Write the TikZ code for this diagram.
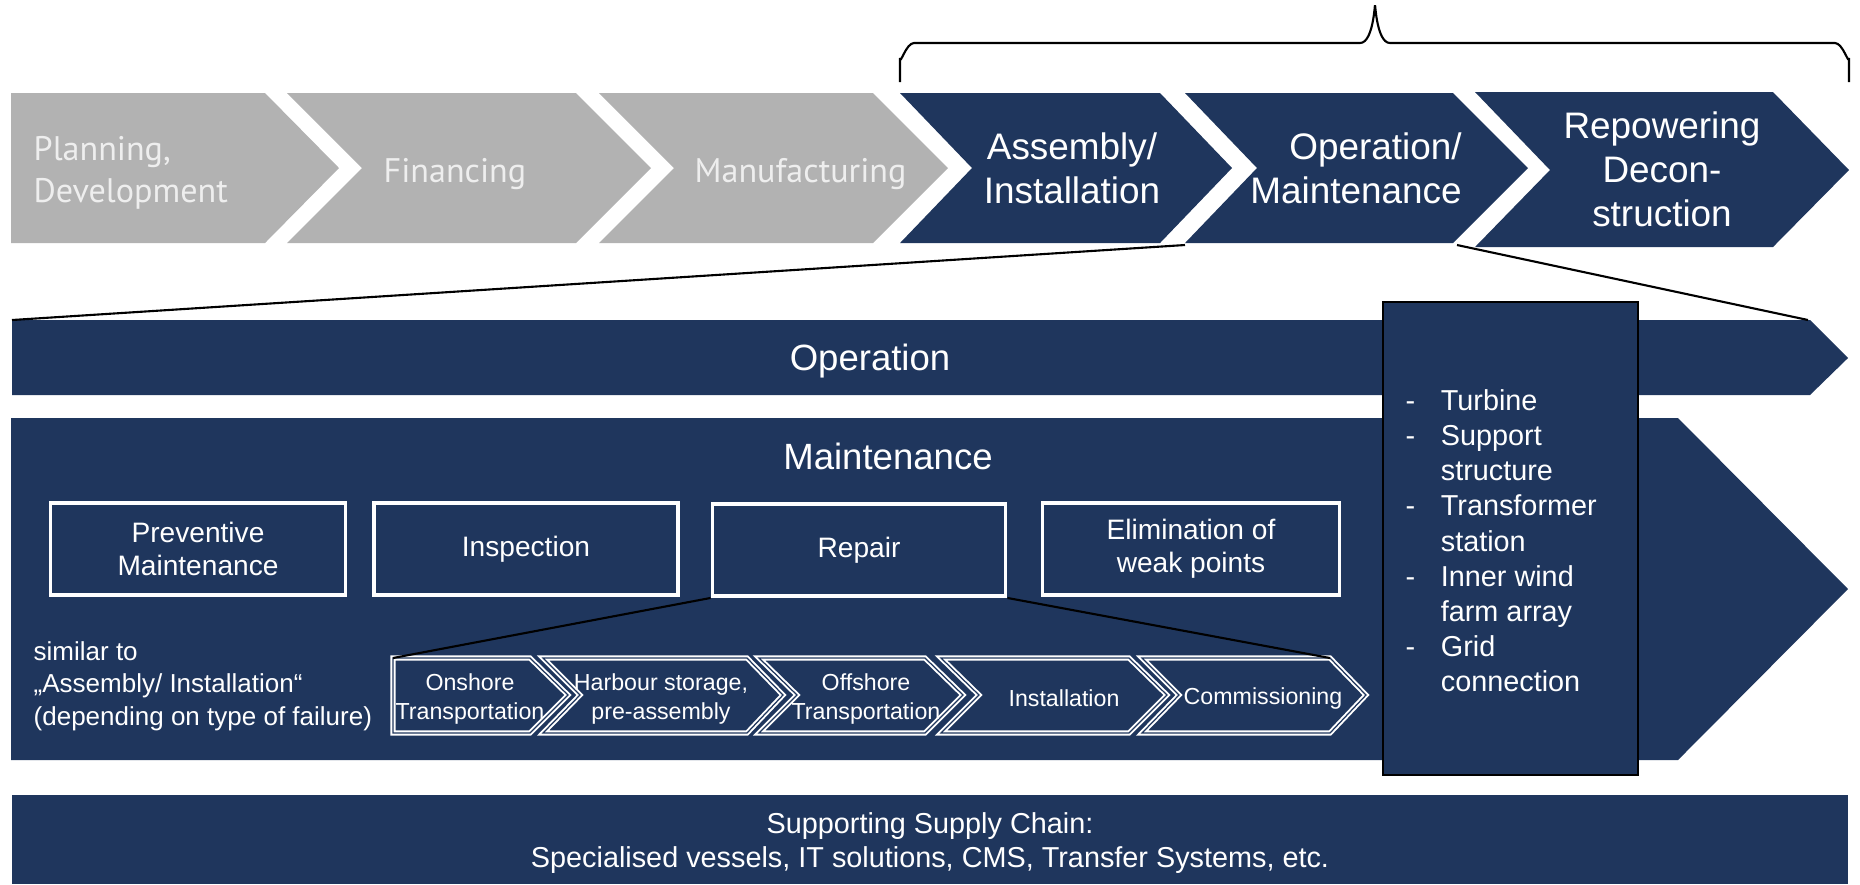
\documentclass[tikz,border=0pt]{standalone}
\usepackage{fontspec}
\setmainfont{Liberation Sans}
\newfontfamily\grayfont{PT Sans}
\usetikzlibrary{positioning}
\definecolor{navy}{RGB}{31,54,93}
\definecolor{stepgray}{RGB}{178,178,178}
\definecolor{graytext}{RGB}{238,238,238}
\begin{document}
\begin{tikzpicture}[x=0.1mm, y=-0.1mm,
    graylbl/.style={anchor=west, inner sep=0pt, align=left, text=graytext, font=\grayfont\fontsize{9.7}{12}\selectfont},
    bluelbl/.style={inner sep=0pt, align=center, text=white, font=\fontsize{10.5}{12.5}\selectfont},
    barlbl/.style={inner sep=0pt, text=white, font=\fontsize{10.4}{12}\selectfont},
    taskbox/.style={draw=white, line width=1.1pt, fill=navy, minimum height=9.2mm, align=center, text=white, font=\fontsize{8}{9.5}\selectfont},
    subchev/.style={draw=white, double=navy, double distance=0.35pt, line width=0.55pt, line join=miter},
    sublbl/.style={inner sep=0pt, align=center, text=white, font=\fontsize{6.6}{8.5}\selectfont},
    zoomline/.style={black, line width=0.6pt}]
  \useasboundingbox (0,0) rectangle (1860,884);

  % value chain
  \fill[stepgray] (11,93) -- (265,93) -- (339,168) -- (265,243) -- (11,243) -- cycle;
  \fill[stepgray] (287,93) -- (576,93) -- (651,168) -- (576,243) -- (287,243) -- (362,168) -- cycle;
  \fill[stepgray] (599,93) -- (873,93) -- (948,168) -- (873,243) -- (599,243) -- (674,168) -- cycle;
  \fill[navy] (900,93) -- (1160,93) -- (1232,168) -- (1160,243) -- (900,243) -- (972,168) -- cycle;
  \fill[navy] (1185,93) -- (1453,93) -- (1528,168) -- (1453,243) -- (1185,243) -- (1257,168) -- cycle;
  \fill[navy] (1475,92) -- (1773,92) -- (1849,170) -- (1773,247) -- (1475,247) -- (1550,170) -- cycle;

  \node[graylbl] (plan) at (33,173) {Planning,\\Development};
  \node[graylbl] (fin) at (383,174) {Financing};
  \node[graylbl] (manu) at (694,174) {Manufacturing};
  \node[bluelbl] (assy) at (1072,168) {Assembly/\\Installation};
  \node[bluelbl, align=right] (om) at (1356,168) {Operation/\\Maintenance};
  \node[bluelbl] (repo) at (1662,169) {Repowering\\Decon-\\struction};

  % brace
  \draw[line width=0.6pt] (900,82) -- (900,58) to[out=-90,in=180] (914,43) -- (1360,43)
    to[out=0,in=90] (1375,8) to[out=90,in=180] (1390,43) -- (1835,43)
    to[out=0,in=-90] (1849,58) -- (1849,82);

  % operation and maintenance
  \coordinate (om-bl) at (1185,245);
  \coordinate (om-br) at (1457,245);
  \coordinate (op-tl) at (12,320);
  \coordinate (op-tr) at (1808,320);
  \fill[navy] (12,320) -- (1810,320) -- (1848,358) -- (1810,395) -- (12,395) -- cycle;
  \fill[navy] (11,418) -- (1678,418) -- (1848,589) -- (1678,760) -- (11,760) -- cycle;
  \draw[zoomline] (om-bl) -- (op-tl);
  \draw[zoomline] (om-br) -- (op-tr);

  \node[barlbl] (oper) at (870,361) {Operation};
  \node[barlbl] (maint) at (888,456) {Maintenance};

  \node[taskbox, minimum width=29.5mm] (prev) at (198,549) {Preventive\\Maintenance};
  \node[taskbox, minimum width=30.4mm] (insp) at (526,549) {Inspection};
  \node[taskbox, minimum width=29.3mm] (rep) at (859,550) {Repair};
  \node[taskbox, minimum width=29.7mm] (elim) at (1191,549) {Elimination of\\weak points};

  \node[anchor=west, inner sep=0pt, align=left, text=white, font=\fontsize{7.4}{9.2}\selectfont] (sim) at (33,686)
    {similar to\\„Assembly/ Installation“\\(depending on type of failure)};

  % repair steps
  \draw[subchev] (393,658) -- (530,658) -- (568,695) -- (530,733) -- (393,733) -- cycle;
  \draw[subchev] (543,658) -- (747,658) -- (783,695) -- (747,733) -- (543,733) -- (580,695) -- cycle;
  \draw[subchev] (759,658) -- (925,658) -- (963,695) -- (925,733) -- (759,733) -- (797,695) -- cycle;
  \draw[subchev] (941,658) -- (1129,658) -- (1167,695) -- (1129,733) -- (941,733) -- (979,695) -- cycle;
  \draw[subchev] (1142,658) -- (1330,658) -- (1366,695) -- (1330,733) -- (1142,733) -- (1179,695) -- cycle;
  \coordinate (on-tl) at (393,658);
  \coordinate (com-tr) at (1330,658);
  \draw[zoomline] (rep.south west) -- (on-tl);
  \draw[zoomline] (rep.south east) -- (com-tr);

  \node[sublbl] (onsh) at (470,699) {Onshore\\Transportation};
  \node[sublbl] (harb) at (661,699) {Harbour storage,\\pre-assembly};
  \node[sublbl] (offs) at (866,699) {Offshore\\Transportation};
  \node[sublbl] (inst) at (1064,698) {Installation};
  \node[sublbl] (comm) at (1263,698) {Commissioning};

  % components
  \draw[black, line width=0.8pt, fill=navy] (1383,302) rectangle (1638,775);
  \node[anchor=west, inner sep=0pt, text=white, font=\fontsize{8.2}{10}\selectfont] (comp) at (1405,544)
    {\begin{tabular}{@{}p{10pt}@{}l@{}}
      - & Turbine\\
      - & Support\\
        & structure\\
      - & Transformer\\
        & station\\
      - & Inner wind\\
        & farm array\\
      - & Grid\\
        & connection
    \end{tabular}};

  % supply chain
  \fill[navy] (12,795) rectangle (1848,884);
  \node[inner sep=0pt, align=center, text=white, font=\fontsize{8.2}{9.7}\selectfont] (supp) at (930,843)
    {Supporting Supply Chain:\\Specialised vessels, IT solutions, CMS, Transfer Systems, etc.};
\end{tikzpicture}
\end{document}
